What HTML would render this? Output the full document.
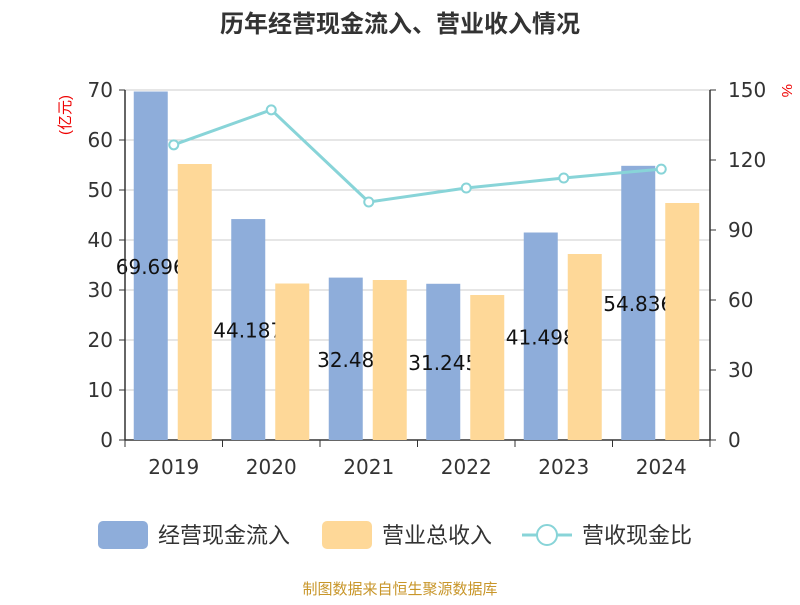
<!DOCTYPE html>
<html><head><meta charset="utf-8"><style>
body{margin:0;background:#fff;}
svg text{font-family:"Liberation Sans","Noto Sans CJK SC",sans-serif;}
svg text.num{font-family:"DejaVu Sans","Liberation Sans",sans-serif;}
</style></head><body>
<svg width="800" height="600" id="c">
<text x="400" y="32" text-anchor="middle" font-size="24" font-weight="bold" fill="#333">历年经营现金流入、营业收入情况</text>
<text x="70" y="115" font-size="15" fill="#e00" transform="rotate(-90 70 115)" text-anchor="middle">(亿元)</text>
<text x="782" y="84" font-size="15" fill="#e00" transform="rotate(90 782 84)">%</text>
<g id="grid"></g><g id="blue"></g><g id="labels"></g><g id="orange"></g><g id="line"></g><g id="axes"></g>
<g>
<rect x="98" y="521" width="50" height="28" rx="5" fill="#8eadda"/>
<text x="158" y="543" font-size="22" fill="#333">经营现金流入</text>
<rect x="322" y="521" width="50" height="28" rx="5" fill="#fed898"/>
<text x="382" y="543" font-size="22" fill="#333">营业总收入</text>
<line x1="522" y1="535" x2="572" y2="535" stroke="#88d4d8" stroke-width="3"/>
<circle cx="547" cy="535" r="10" fill="#fff" stroke="#88d4d8" stroke-width="2"/>
<text x="582" y="543" font-size="22" fill="#333">营收现金比</text>
</g>
<text x="400" y="594" text-anchor="middle" font-size="15" fill="#c8962a">制图数据来自恒生聚源数据库</text>
</svg>
<script>
const years=["2019","2020","2021","2022","2023","2024"];
const cashInflow=[69.696,44.187,32.48,31.245,41.498,54.836];
const cashLabels=["69.696","44.187","32.48","31.245","41.498","54.836"];
const revenue=[55.2,31.3,32.0,29.0,37.2,47.4];
const ratio=[126.5,141.5,102,108,112.3,116.1];
const leftTicks=[0,10,20,30,40,50,60,70];
const rightTicks=[0,30,60,90,120,150];
const NS="http://www.w3.org/2000/svg";
const X0=125,X1=710,Y0=440,Y1=90;
const bw=(X1-X0)/years.length;
const cx=i=>X0+bw*(i+0.5);
const yL=v=>Y0-(v/70)*(Y0-Y1);
const yR=v=>Y0-(v/150)*(Y0-Y1);
function mk(tag,attrs,parent,text){const e=document.createElementNS(NS,tag);for(const k in attrs)e.setAttribute(k,attrs[k]);if(text!==undefined)e.textContent=text;document.getElementById(parent).appendChild(e);return e;}
leftTicks.forEach(t=>{
 const g=mk("line",{x1:X0,x2:X1,y1:yL(t),y2:yL(t),stroke:t===0?"#333":"#ccc","stroke-width":t===0?1.5:1},"grid");
 
 
 mk("line",{x1:X0-6,x2:X0,y1:yL(t),y2:yL(t),stroke:"#333"},"axes");
 const l=mk("text",{x:X0-12,y:yL(t)+7,"text-anchor":"end","font-size":20,fill:"#333",class:"num"},"axes",t);
 
 
});
rightTicks.forEach(t=>{
 mk("line",{x1:X1,x2:X1+6,y1:yR(t),y2:yR(t),stroke:"#333"},"axes");
 const l=mk("text",{x:X1+18,y:yR(t)+7,"font-size":20,fill:"#333",class:"num"},"axes",t);
 
 
});
mk("line",{x1:X0,x2:X0,y1:Y1,y2:Y0,stroke:"#333","stroke-width":1.5},"axes");
mk("line",{x1:X1,x2:X1,y1:Y1,y2:Y0,stroke:"#333","stroke-width":1.5},"axes");
for(let i=0;i<=years.length;i++)mk("line",{x1:X0+bw*i,x2:X0+bw*i,y1:Y0,y2:Y0+7,stroke:"#333"},"axes");
years.forEach((y,i)=>{
 const l=mk("text",{x:cx(i),y:Y0+34,"text-anchor":"middle","font-size":20,fill:"#333",class:"num"},"axes",y);
 
 
 const b=mk("rect",{x:cx(i)-40,y:yL(cashInflow[i]),width:34,height:Y0-yL(cashInflow[i]),fill:"#8eadda"},"blue");
 
 
 const t=mk("text",{x:cx(i)-23,y:(yL(cashInflow[i])+Y0)/2+8,"text-anchor":"middle","font-size":20,fill:"#111",class:"num"},"labels",cashLabels[i]);
 
 
 const o=mk("rect",{x:cx(i)+4,y:yL(revenue[i]),width:34,height:Y0-yL(revenue[i]),fill:"#fed898"},"orange");
 
 
});
const pts=ratio.map((v,i)=>cx(i)+","+yR(v)).join(" ");
const pl=mk("polyline",{points:pts,fill:"none",stroke:"#88d4d8","stroke-width":3},"line");


ratio.forEach((v,i)=>{
 const c=mk("circle",{cx:cx(i),cy:yR(v),r:4.5,fill:"#fff",stroke:"#88d4d8","stroke-width":2},"line");
 
 
});
</script>
</body></html>
